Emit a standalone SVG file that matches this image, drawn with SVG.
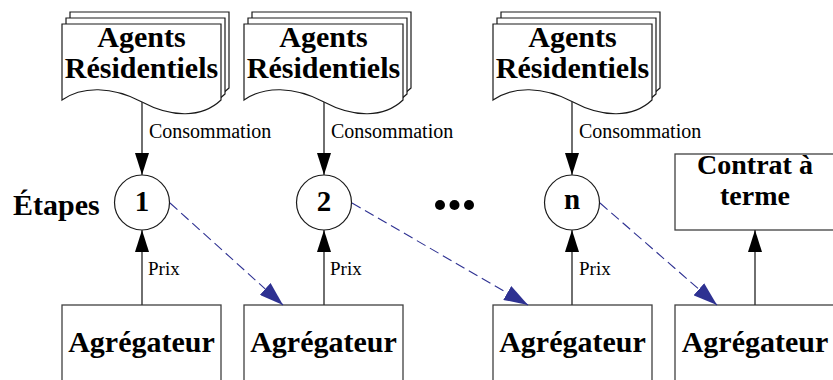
<svg xmlns="http://www.w3.org/2000/svg" width="833" height="380" viewBox="0 0 833 380">
  <style>
    .page { fill: #ffffff; stroke: #1a1a1a; stroke-width: 1.2; }
    .box { fill: #ffffff; stroke: #404040; stroke-width: 1.3; }
    .step { fill: #ffffff; stroke: #1a1a1a; stroke-width: 1.2; }
    .title { font-family: "Liberation Serif", "Times New Roman", serif; font-weight: bold; font-size: 30px; fill: #000; text-anchor: middle; }
    .num { font-family: "Liberation Serif", "Times New Roman", serif; font-weight: bold; font-size: 29px; fill: #000; text-anchor: middle; }
    .label { font-family: "Liberation Serif", "Times New Roman", serif; font-size: 19px; fill: #000; }
    .flow { stroke: #333333; stroke-width: 1.4; fill: none; }
    .handoff { stroke: #2e3192; stroke-width: 1.1; stroke-dasharray: 10 5; fill: none; }
  </style>
  <defs>
    <!-- one sheet of a multi-page document, wavy bottom edge -->
    <path id="sheet" d="M0,0 H159 V76 C140,94 110,94 80,78 C50,62 20,62 0,76 Z"/>
    <marker id="tipBlack" markerUnits="userSpaceOnUse" markerWidth="22" markerHeight="14" refX="22" refY="7" orient="auto">
      <path d="M0,0 L22,7 L0,14 Z" fill="#000"/>
    </marker>
    <marker id="tipBlue" markerUnits="userSpaceOnUse" markerWidth="24" markerHeight="16" refX="24" refY="8" orient="auto">
      <path d="M0,0 L24,8 L0,16 Z" fill="#2e3192"/>
    </marker>
  </defs>

  <!-- residential agents (stacked documents) -->
  <g id="agents-1">
    <use href="#sheet" class="page" transform="translate(70,12)"/>
    <use href="#sheet" class="page" transform="translate(66,18)"/>
    <use href="#sheet" class="page" transform="translate(62,24)"/>
    <text class="title" x="141.5" y="47">Agents</text>
    <text class="title" x="141.5" y="78">Résidentiels</text>
  </g>
  <g id="agents-2">
    <use href="#sheet" class="page" transform="translate(252,12)"/>
    <use href="#sheet" class="page" transform="translate(248,18)"/>
    <use href="#sheet" class="page" transform="translate(244,24)"/>
    <text class="title" x="323.5" y="47">Agents</text>
    <text class="title" x="323.5" y="78">Résidentiels</text>
  </g>
  <g id="agents-n">
    <use href="#sheet" class="page" transform="translate(501,12)"/>
    <use href="#sheet" class="page" transform="translate(497,18)"/>
    <use href="#sheet" class="page" transform="translate(493,24)"/>
    <text class="title" x="572.5" y="47">Agents</text>
    <text class="title" x="572.5" y="78">Résidentiels</text>
  </g>

  <!-- steps -->
  <g id="steps-label">
    <text class="title" x="13" y="215" style="text-anchor:start">Étapes</text>
  </g>
  <g id="step-1">
    <circle class="step" cx="142" cy="202.5" r="27.5"/>
    <text class="num" x="142" y="211">1</text>
  </g>
  <g id="step-2">
    <circle class="step" cx="324" cy="202.5" r="27.5"/>
    <text class="num" x="324" y="211">2</text>
  </g>
  <g id="ellipsis">
    <circle cx="440" cy="205" r="5" fill="#000"/>
    <circle cx="454.5" cy="205" r="5" fill="#000"/>
    <circle cx="469" cy="205" r="5" fill="#000"/>
  </g>
  <g id="step-n">
    <circle class="step" cx="572" cy="202.5" r="27.5"/>
    <text class="num" x="572" y="209">n</text>
  </g>

  <!-- forward contract -->
  <g id="contrat">
    <rect class="box" x="675" y="154" width="159" height="76"/>
    <text class="title" x="755" y="174" style="font-size:28px">Contrat à</text>
    <text class="title" x="755" y="205" style="font-size:28px">terme</text>
  </g>

  <!-- aggregators -->
  <g id="agregateur-1">
    <rect class="box" x="62" y="305" width="159" height="90"/>
    <text class="title" x="141.5" y="352">Agrégateur</text>
  </g>
  <g id="agregateur-2">
    <rect class="box" x="244" y="305" width="159" height="90"/>
    <text class="title" x="323.5" y="352">Agrégateur</text>
  </g>
  <g id="agregateur-n">
    <rect class="box" x="493" y="305" width="159" height="90"/>
    <text class="title" x="572.5" y="352">Agrégateur</text>
  </g>
  <g id="agregateur-final">
    <rect class="box" x="675" y="305" width="159" height="90"/>
    <text class="title" x="755" y="352">Agrégateur</text>
  </g>

  <!-- connectors -->
  <g id="connectors">
    <line class="flow" x1="142" y1="102" x2="142" y2="175" marker-end="url(#tipBlack)"/>
    <line class="flow" x1="324" y1="102" x2="324" y2="175" marker-end="url(#tipBlack)"/>
    <line class="flow" x1="572" y1="102" x2="572" y2="175" marker-end="url(#tipBlack)"/>
    <text class="label" x="149" y="138" style="font-size:20px">Consommation</text>
    <text class="label" x="331" y="138" style="font-size:20px">Consommation</text>
    <text class="label" x="579" y="138" style="font-size:20px">Consommation</text>

    <line class="flow" x1="142" y1="305" x2="142" y2="230" marker-end="url(#tipBlack)"/>
    <line class="flow" x1="324" y1="305" x2="324" y2="230" marker-end="url(#tipBlack)"/>
    <line class="flow" x1="572" y1="305" x2="572" y2="230" marker-end="url(#tipBlack)"/>
    <line class="flow" x1="755" y1="305" x2="755" y2="230" marker-end="url(#tipBlack)"/>
    <text class="label" x="148" y="275">Prix</text>
    <text class="label" x="330" y="275">Prix</text>
    <text class="label" x="579" y="275">Prix</text>

    <line class="handoff" x1="170" y1="203" x2="283" y2="305" marker-end="url(#tipBlue)"/>
    <line class="handoff" x1="352" y1="203" x2="528" y2="305" marker-end="url(#tipBlue)"/>
    <line class="handoff" x1="600" y1="203" x2="717" y2="305" marker-end="url(#tipBlue)"/>
  </g>
</svg>
